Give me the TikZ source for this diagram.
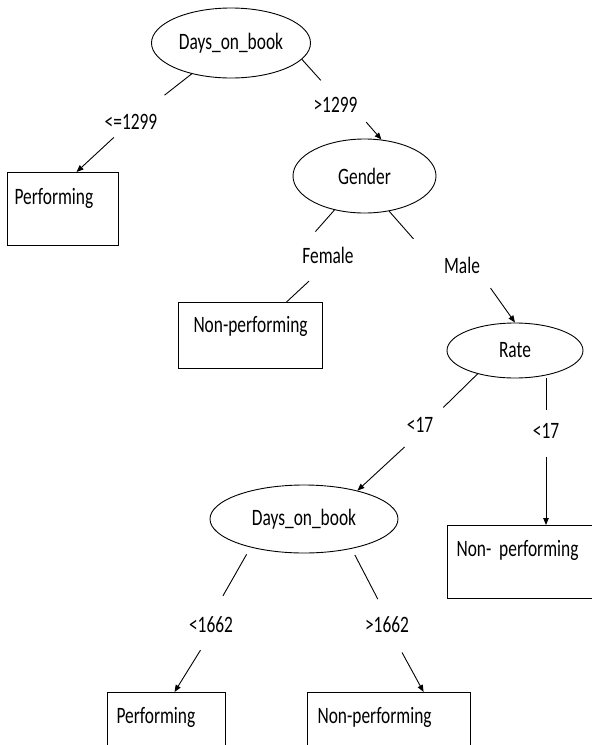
\documentclass[tikz,border=0pt]{standalone}
\usepackage{fontspec}
\setmainfont{Carlito}[FakeStretch=0.74]
\usetikzlibrary{shapes.geometric,arrows.meta}

\tikzset{
	split/.style={ellipse, draw, line width=0.9pt, inner sep=0pt},
	leaf/.style={draw, line width=1.1pt, anchor=north west, inner ysep=0pt},
	cut/.style={inner sep=0pt},
	link/.style={line width=0.9pt},
	arr/.style={link, -{Triangle[length=7pt,width=5.5pt]}}
}

\begin{document}
\begin{tikzpicture}[x=1pt, y=-1pt, font=\fontsize{23.5}{28}\selectfont]
			%%%%% START %%%%%
			\clip (0, 0) rectangle (592, 745);
			\fill[white] (0, 0) rectangle (592, 745);
			
			% splits
			\node[split, minimum width=159pt, minimum height=70pt] (dob1) at (231, 43) {Days\_on\_book};
			\node[split, minimum width=143pt, minimum height=74pt] (gender) at (364.5, 176) {Gender};
			\node[split, minimum width=136pt, minimum height=55pt] (rate) at (515, 350.5) {Rate};
			\node[split, minimum width=188pt, minimum height=68pt] (dob2) at (304, 519) {Days\_on\_book};
			
			% leaves
			\node[leaf, inner xsep=7pt, text width=97pt, text height=32pt, text depth=41pt, align=left] (perfA) at (7, 172) {Performing};
			\node[leaf, inner xsep=0pt, text width=144pt, text height=30pt, text depth=36pt, align=center] (nonA) at (178, 302) {Non-performing};
			\node[leaf, inner xsep=9pt, text width=135pt, text height=31pt, text depth=42pt, align=left] (nonB) at (447, 525) {Non- performing};
			\node[leaf, inner xsep=9pt, text width=100pt, text height=31pt, text depth=37pt, align=left] (perfB) at (107, 692) {Performing};
			\node[leaf, inner xsep=10pt, text width=143pt, text height=31pt, text depth=37pt, align=left] (nonC) at (307, 692) {Non-performing};
			
			% branch labels
			\node[cut] (lte1299) at (131, 121.5) {<=1299};
			\node[cut] (gt1299) at (335.5, 104.5) {>1299};
			\node[cut] (fem) at (328, 255) {Female};
			\node[cut] (male) at (462, 265) {Male};
			\node[cut] (ltA) at (420, 425) {<17};
			\node[cut] (ltB) at (546, 431) {<17};
			\node[cut] (lt1662) at (211, 625) {<1662};
			\node[cut] (gt1662) at (387, 625) {>1662};
			
			% top split
			\draw[link, shorten >=30pt] (dob1) -- (lte1299);
			\draw[arr, shorten <=12pt] (lte1299) -- (perfA.70);
			\draw[link, shorten >=22pt] (dob1.-13) -- (gt1299.north);
			\draw[arr, shorten <=13pt] (gt1299.south east) -- (gender.65);
			
			% gender
			\draw[link, shorten >=20pt] (gender) -- (fem.north west);
			\draw[link, shorten <=26pt] (fem.south) -- (nonA.43);
			\draw[link, shorten >=46pt] (gender.-55) -- (male.south west);
			\draw[arr, shorten <=18pt] (male.south east) -- (rate.north);
			
			% rate
			\draw[link, shorten >=14pt] (rate.212) -- (ltA.north east);
			\draw[arr, shorten <=21pt] (ltA.south) -- (dob2.28);
			\draw[link, shorten >=13pt] (rate.south -| ltB) -- (ltB);
			\draw[arr, shorten <=18pt] (ltB) -- (ltB |- nonB.north);
			
			% second days split
			\draw[link, shorten <=8pt, shorten >=24pt] (dob2.208) -- (lt1662.north);
			\draw[arr, shorten <=20pt] (lt1662.south) -- (perfB.77);
			\draw[link, shorten <=7pt, shorten >=20pt] (dob2.-32) -- (gt1662.north);
			\draw[arr, shorten <=22pt] (gt1662) -- (nonC.45);
			
			%%%%% END %%%%%
\end{tikzpicture}
\end{document}
